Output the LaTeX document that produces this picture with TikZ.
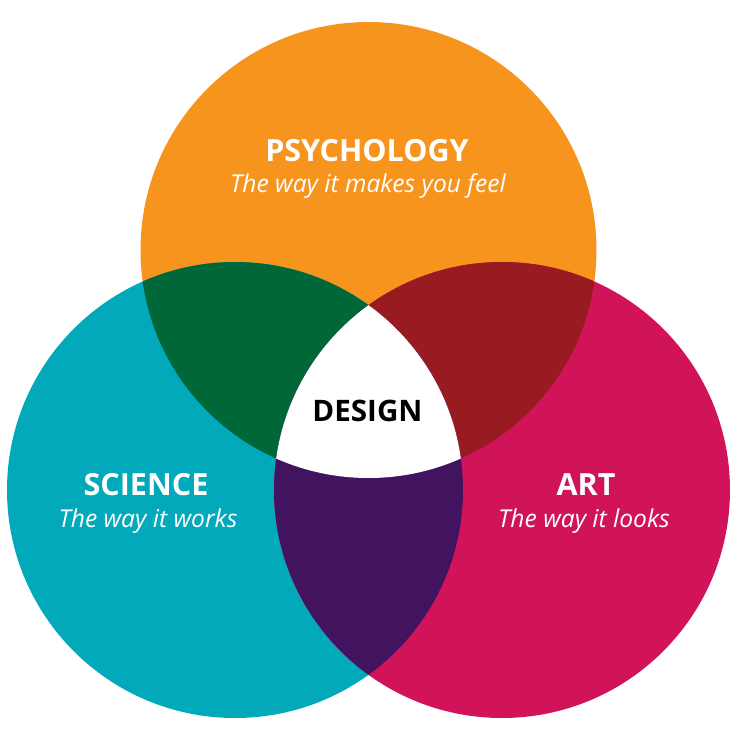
\documentclass[tikz,border=0pt]{standalone}
\usepackage{fontspec}
\setmainfont{Open Sans}
\definecolor{cOrange}{HTML}{F7941E}
\definecolor{cTeal}{HTML}{02A9BA}
\definecolor{cPink}{HTML}{D1145A}
\definecolor{cGreen}{HTML}{006838}
\definecolor{cRed}{HTML}{981B22}
\definecolor{cPurple}{HTML}{42145F}
\tikzset{
  title/.style={text=white, font=\bfseries\fontsize{30.5}{30.5}\selectfont, anchor=base, inner sep=0pt},
  sub/.style={text=white, font=\itshape\fontsize{24.6}{24.6}\selectfont, anchor=base, inner sep=0pt},
  center/.style={text=black, font=\bfseries\fontsize{29.6}{29.6}\selectfont, anchor=base, inner sep=0pt}
}
\begin{document}
\begin{tikzpicture}[x=1pt,y=-1pt]
\useasboundingbox (0,0) rectangle (740,740);
\def\R{228}
\coordinate (po) at (368.5,250);
\coordinate (pt) at (235,490);
\coordinate (pp) at (502,490);
% base circles
\fill[cOrange] (po) circle (\R);
\fill[cTeal] (pt) circle (\R);
\fill[cPink] (pp) circle (\R);
% pairwise intersections
\begin{scope}
  \clip (po) circle (\R);
  \fill[cGreen] (pt) circle (\R);
  \fill[cRed] (pp) circle (\R);
\end{scope}
\begin{scope}
  \clip (pt) circle (\R);
  \fill[cPurple] (pp) circle (\R);
  \clip (pp) circle (\R);
  \fill[white] (po) circle (\R);
\end{scope}
% labels
\node[title] (psy) at (367,161) {PSYCHOLOGY};
\node[sub] (psysub) at (368,192) {The way it makes you feel};
\node[center] (design) at (367.5,421) {DESIGN};
\node[title] (sci) at (146,495) {SCIENCE};
\node[sub] (scisub) at (148,527) {The way it works};
\node[title] (art) at (586,495) {ART};
\node[sub] (artsub) at (584,527) {The way it looks};
\end{tikzpicture}
\end{document}
